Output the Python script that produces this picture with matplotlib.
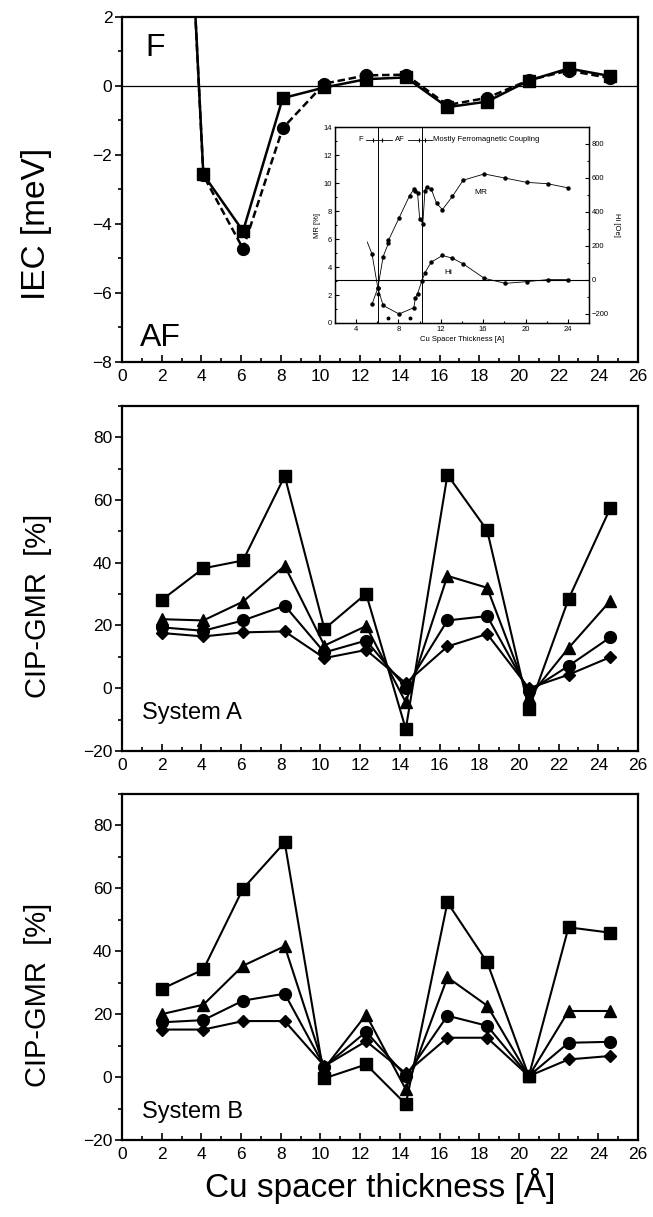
import matplotlib
matplotlib.use("Agg")
import matplotlib.pyplot as plt
from matplotlib.ticker import MultipleLocator

plt.rcParams['font.family'] = ['Liberation Sans', 'DejaVu Sans']

# --- top panel: interlayer exchange coupling ---
iec_x = [2.0, 4.1, 6.1, 8.1, 10.2, 12.3, 14.3, 16.4, 18.4, 20.5, 22.5, 24.6]
iec_sq = [21.6, -2.57, -4.21, -0.36, -0.05, 0.19, 0.24, -0.62, -0.46, 0.15, 0.50, 0.28]
iec_ci = [21.6, -2.60, -4.72, -1.23, 0.06, 0.30, 0.32, -0.56, -0.35, 0.16, 0.44, 0.22]

# --- inset: MR and Hi vs spacer thickness ---
mr_x = [5.5, 6.05, 6.55, 7.05, 7.05, 8.05, 9.05, 9.45, 9.6, 9.8, 10.0, 10.3, 10.5,
        10.65, 11.1, 11.6, 12.15, 13.1, 14.1, 16.1, 18.1, 20.1, 22.1, 24.05]
mr_y = [1.35, 2.5, 4.75, 5.7, 5.9, 7.5, 9.1, 9.55, 9.45, 9.3, 7.45, 7.1, 9.45,
        9.75, 9.55, 8.55, 8.1, 9.05, 10.2, 10.65, 10.35, 10.05, 9.95, 9.65]
hi_x = [5.05, 5.5, 6.05, 6.55, 8.05, 9.45, 9.6, 9.8, 10.2, 10.5, 11.1,
        12.15, 13.1, 14.1, 16.1, 18.1, 20.1, 22.1, 24.05]
hi_y = [223, 152, -48, -150, -200, -163, -105, -81, -7, 43, 105,
        144, 128, 95, 10, -20, -10, 2, 2]
hi_extra_x = [7.05, 9.05, 6.05]
hi_extra_y = [-224, -226, -80]

# --- CIP-GMR panels ---
gmr_x = [2.0, 4.1, 6.1, 8.2, 10.2, 12.3, 14.3, 16.4, 18.4, 20.5, 22.5, 24.6]
a_sq = [28.1, 38.2, 40.7, 67.6, 18.9, 30.1, -13.0, 68.0, 50.3, -6.6, 28.4, 57.3]
a_tr = [22.0, 21.6, 27.6, 39.0, 13.6, 19.8, -4.5, 35.8, 32.0, -2.9, 12.8, 27.8]
a_ci = [19.4, 18.3, 21.6, 26.3, 11.4, 15.2, 0.2, 21.6, 23.0, -1.0, 7.1, 16.2]
a_di = [17.6, 16.5, 17.8, 18.1, 9.6, 12.2, 1.6, 13.3, 17.3, 0.0, 4.3, 9.9]

b_sq = [28.0, 34.2, 59.9, 74.6, -0.4, 4.0, -8.6, 55.5, 36.5, 0.3, 47.6, 45.9]
b_tr = [20.0, 23.0, 35.4, 41.6, 2.8, 19.8, -3.9, 31.7, 22.7, 0.3, 21.0, 21.0]
b_ci = [17.4, 18.1, 24.3, 26.5, 3.3, 14.4, 0.3, 19.5, 16.3, 0.3, 10.9, 11.2]
b_di = [15.1, 15.1, 17.8, 17.8, 3.5, 11.4, 1.2, 12.5, 12.5, 0.3, 5.6, 6.7]

fig = plt.figure(figsize=(6.53, 12.17), dpi=100)
ax1 = fig.add_axes([0.1868, 0.7026, 0.7902, 0.2837])
ax2 = fig.add_axes([0.1868, 0.3829, 0.7902, 0.2837])
ax3 = fig.add_axes([0.1868, 0.0633, 0.7902, 0.2843])


def style_axes(ax, ymin, ymax, ymaj, ymin_step):
    ax.set_xlim(0, 26)
    ax.set_ylim(ymin, ymax)
    ax.xaxis.set_major_locator(MultipleLocator(2))
    ax.xaxis.set_minor_locator(MultipleLocator(1))
    ax.yaxis.set_major_locator(MultipleLocator(ymaj))
    ax.yaxis.set_minor_locator(MultipleLocator(ymin_step))
    ax.tick_params(axis='x', which='both', direction='in', labelsize=12.5, pad=5)
    ax.tick_params(axis='x', which='major', length=5, width=1.2)
    ax.tick_params(axis='x', which='minor', length=3, width=1.2)
    ax.tick_params(axis='y', which='both', direction='out', labelsize=12.5, pad=2)
    ax.tick_params(axis='y', which='major', length=5, width=1.2)
    ax.tick_params(axis='y', which='minor', length=3, width=1.2)
    for s in ax.spines.values():
        s.set_linewidth(1.6)


# top panel
style_axes(ax1, -8, 2, 2, 1)
ax1.axhline(0, color='black', lw=0.9)
ax1.plot(iec_x, iec_ci, color='black', ls='--', dashes=(3, 1.5), lw=1.8,
         marker='o', ms=8.5, zorder=3)
ax1.plot(iec_x, iec_sq, color='black', ls='-', lw=1.8,
         marker='s', ms=8, zorder=4)
ax1.text(1.2, 1.1, 'F', fontsize=23, ha='left', va='center')
ax1.text(0.9, -7.3, 'AF', fontsize=23, ha='left', va='center')
ax1.set_ylabel('IEC [meV]', fontsize=24)
ax1.yaxis.set_label_coords(-0.135, 0.40)

# inset
axi = fig.add_axes([0.513, 0.7346, 0.389, 0.161])
axi.set_xlim(2, 26)
axi.set_ylim(0, 14)
axi.xaxis.set_major_locator(MultipleLocator(4))
axi.xaxis.set_minor_locator(MultipleLocator(2))
axi.yaxis.set_major_locator(MultipleLocator(2))
axi.yaxis.set_minor_locator(MultipleLocator(1))
axi.tick_params(which='both', direction='in', labelsize=5.5, pad=2, width=0.8)
axi.tick_params(which='major', length=3)
axi.tick_params(which='minor', length=1.5)
axi.plot(mr_x, mr_y, color='black', lw=0.6, marker='o', ms=2.2)
axi.axvline(6.05, color='black', lw=0.7)
axi.axvline(10.2, color='black', lw=0.7)
axi.set_xlabel('Cu Spacer Thickness [A]', fontsize=5.5, labelpad=2)
axi.set_ylabel('MR [%]', fontsize=5.5, labelpad=2)
axi.text(15.8, 9.3, 'MR', fontsize=6, ha='center', va='center')
axi.text(12.7, 3.6, 'Hi', fontsize=6, ha='center', va='center')
# coupling regions on top
axi.text(4.4, 13.1, 'F', fontsize=5.5, ha='center', va='center')
axi.text(8.1, 13.1, 'AF', fontsize=5.5, ha='center', va='center')
axi.text(11.3, 13.1, 'Mostly Ferromagnetic Coupling', fontsize=5.5,
         ha='left', va='center')
axi.plot([4.9, 7.4], [13.1, 13.1], color='black', lw=0.6)
axi.plot([8.9, 11.2], [13.1, 13.1], color='black', lw=0.6)
axi.plot([5.6, 6.4, 9.9, 10.5], [13.1] * 4, ls='none', marker='|',
         color='black', ms=3, mew=0.8)
for s in axi.spines.values():
    s.set_linewidth(1.0)

axr = axi.twinx()
axr.set_ylim(-253, 899)
axr.yaxis.set_major_locator(MultipleLocator(200))
axr.yaxis.set_minor_locator(MultipleLocator(100))
axr.tick_params(which='both', direction='in', labelsize=5.5, pad=2, width=0.8)
axr.tick_params(which='major', length=3)
axr.tick_params(which='minor', length=1.5)
axr.axhline(0, color='black', lw=0.8)
axr.plot(hi_x, hi_y, color='black', lw=0.6, marker='o', ms=2.2, markevery=list(range(1, len(hi_x))))
axr.plot(hi_extra_x, hi_extra_y, ls='none', color='black', marker='o', ms=1.8)
axr.set_ylabel('Hi [Oe]', fontsize=5.5, rotation=270, labelpad=8)


def gmr_panel(ax, sq, tr, ci, di, label, label_y):
    style_axes(ax, -20, 90, 20, 10)
    kw = dict(color='black', lw=1.5)
    ax.plot(gmr_x, di, marker='D', ms=6.5, **kw)
    ax.plot(gmr_x, ci, marker='o', ms=8.5, **kw)
    ax.plot(gmr_x, tr, marker='^', ms=9, **kw)
    ax.plot(gmr_x, sq, marker='s', ms=8, **kw)
    ax.text(1.0, label_y, label, fontsize=17, ha='left', va='center')
    ax.set_ylabel('CIP-GMR  [%]', fontsize=21)
    ax.yaxis.set_label_coords(-0.135, 0.42)


gmr_panel(ax2, a_sq, a_tr, a_ci, a_di, 'System A', -8)
gmr_panel(ax3, b_sq, b_tr, b_ci, b_di, 'System B', -11)
ax3.set_xlabel('Cu spacer thickness [Å]', fontsize=24, labelpad=4)

fig.savefig('out.png', dpi=100)
